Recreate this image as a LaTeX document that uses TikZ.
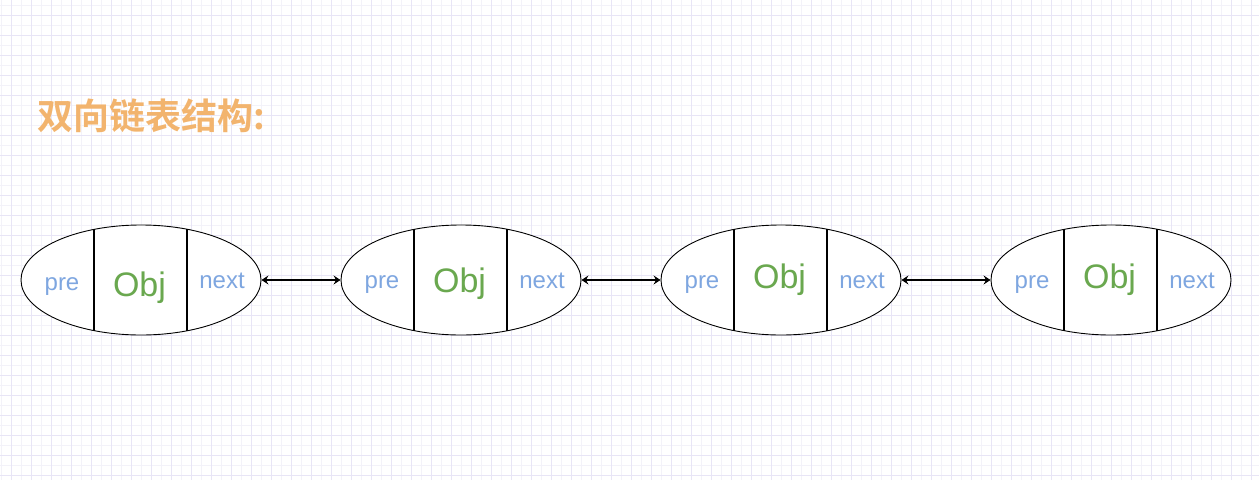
\documentclass[tikz,border=0pt]{standalone}
\usepackage{fontspec}
\setmainfont{Liberation Sans}
\newfontfamily\cjk{Noto Sans CJK SC}[BoldFont={* Bold}]
\usetikzlibrary{shapes.geometric,arrows.meta,calc}
\definecolor{gridmin}{HTML}{F3F2F9}
\definecolor{gridmaj}{HTML}{E8E5F6}
\definecolor{titlec}{HTML}{F2B46E}
\definecolor{bluec}{HTML}{7EA6E0}
\definecolor{greenc}{HTML}{6AA84F}
\tikzset{
  cell/.style={ellipse,draw=black,line width=0.9pt,fill=white,minimum width=240pt,minimum height=110pt,inner sep=0pt},
  lbl/.style={text=bluec,font=\fontsize{24}{24}\selectfont,inner sep=0pt,anchor=base},
  objlbl/.style={text=greenc,font=\fontsize{34}{34}\selectfont,inner sep=0pt,anchor=base},
  divider/.style={line width=1.8pt,black},
  link/.style={line width=1.8pt,{Stealth[length=7pt,width=9pt,inset=2.5pt]}-{Stealth[length=7pt,width=9pt,inset=2.5pt]}},
}
\begin{document}
\begin{tikzpicture}[x=1pt,y=-1pt]
\useasboundingbox (0,0) rectangle (1259,480);
% grid
\foreach \x in {1,21,...,1259} \draw[gridmin,line width=1pt] (\x,0) -- (\x,480);
\foreach \y in {5,25,...,480} \draw[gridmin,line width=1pt] (0,\y) -- (1259,\y);
\foreach \x in {11,31,...,1259} \draw[gridmaj,line width=1pt] (\x,0) -- (\x,480);
\foreach \y in {15,35,...,480} \draw[gridmaj,line width=1pt] (0,\y) -- (1259,\y);
% title
\node[anchor=west,inner sep=0pt,text=titlec,font=\cjk\bfseries\fontsize{36}{36}\selectfont] (title) at (37,116) {双向链表结构:};
% nodes
\foreach \i/\cx/\pb/\ob/\nb in {1/141/10/16/8,2/461/8/12.5/8,3/781/8.3/8.3/8.3,4/1111/8/8/8}{
  \node[cell] (e\i) at (\cx,280) {};
  \draw[divider] ($(e\i.center)+(-47,-50.6)$) -- ++(0,101.2);
  \draw[divider] ($(e\i.center)+(46,-50.6)$) -- ++(0,101.2);
  \node[lbl] (pre\i) at ($(e\i.center)+(-79,\pb)$) {pre};
  \node[objlbl] (obj\i) at ($(e\i.center)+(-1.5,\ob)$) {Obj};
  \node[lbl] (nxt\i) at ($(e\i.center)+(81,\nb)$) {next};
}
\draw[link] (e1.east) -- (e2.west);
\draw[link] (e2.east) -- (e3.west);
\draw[link] (e3.east) -- (e4.west);
\end{tikzpicture}
\end{document}
